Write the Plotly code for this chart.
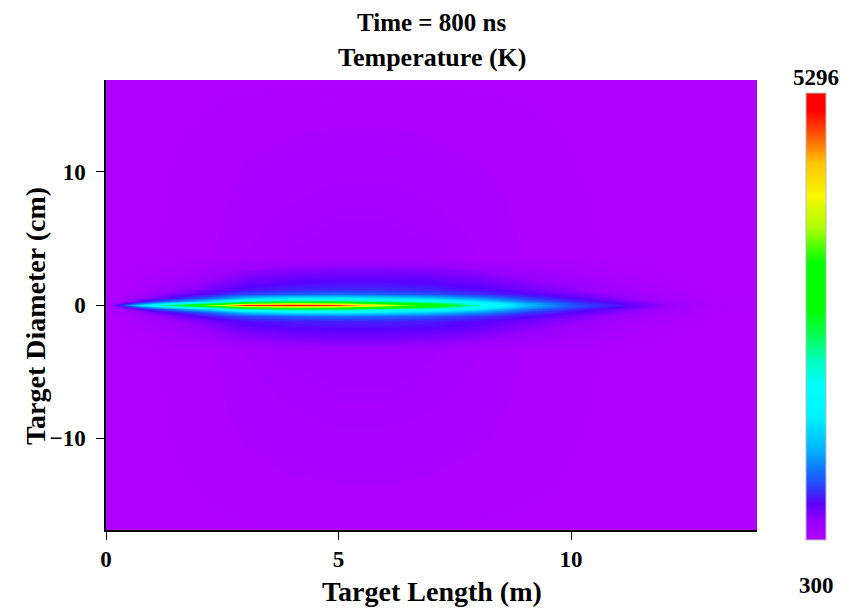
import plotly.graph_objects as go

# Axial positions (m) and radial offsets (cm) of the temperature table
x_m = [0, 0.3, 1, 2, 2.5, 3, 4, 5, 6, 7, 8, 9, 10, 11, 12, 13, 14]
r_cm = [0, 0.15, 0.3, 0.5, 0.8, 1.2, 1.8, 2.6, 3.5, 17]

# Temperature (K): one row per radial offset, one column per axial position
T_r000 = [300, 800, 2000, 3400, 4000, 5100, 5296, 4900, 4050, 3200, 2200, 1400, 980, 750, 520, 330, 300]
T_r015 = [300, 550, 1300, 2200, 2700, 3500, 3800, 3700, 3200, 2700, 1950, 1300, 920, 700, 490, 320, 300]
T_r030 = [300, 400, 850, 1400, 1750, 2300, 2600, 2600, 2300, 2000, 1600, 1100, 820, 630, 450, 310, 300]
T_r050 = [300, 330, 600, 950, 1150, 1450, 1650, 1700, 1600, 1450, 1200, 900, 710, 550, 410, 300, 300]
T_r080 = [300, 300, 480, 700, 820, 920, 1000, 1050, 1020, 960, 850, 730, 610, 480, 370, 300, 300]
T_r120 = [300, 300, 420, 570, 650, 730, 790, 810, 810, 780, 710, 620, 530, 420, 340, 300, 300]
T_r180 = [300, 300, 370, 480, 560, 630, 680, 700, 700, 680, 630, 550, 470, 380, 310, 300, 300]
T_r260 = [300, 300, 320, 400, 460, 520, 570, 590, 590, 570, 520, 450, 390, 330, 300, 300, 300]
T_r350 = [300, 300, 300, 320, 340, 370, 400, 420, 420, 400, 370, 330, 310, 300, 300, 300, 300]
T_r1700 = [300, 300, 300, 300, 300, 300, 300, 300, 300, 300, 300, 300, 300, 300, 300, 300, 300]
T_rows = [T_r000, T_r015, T_r030, T_r050, T_r080, T_r120, T_r180, T_r260, T_r350, T_r1700]

T_min = 300
T_max = 5296

x_ticks = [0, 5, 10]
y_ticks = [-10, 0, 10]

colorscale = [
    [0.00, "#b000ff"], [0.04, "#9a00ff"], [0.08, "#5a00ff"], [0.13, "#2050ff"],
    [0.20, "#00b0ff"], [0.27, "#00f0ff"], [0.34, "#00ffff"], [0.40, "#00ffc0"],
    [0.47, "#00ff40"], [0.52, "#00ff00"], [0.62, "#00ff00"], [0.70, "#b0ff00"],
    [0.77, "#f8f800"], [0.84, "#ffc800"], [0.90, "#ff6000"], [0.96, "#ff0000"],
    [1.00, "#ff0000"],
]

# Mirror the radial table about the axis (symmetric target)
y_cm = [-r for r in reversed(r_cm[1:])] + r_cm
z = list(reversed(T_rows[1:])) + T_rows

FONT = "Liberation Serif"

fig = go.Figure(
    go.Heatmap(
        x=x_m, y=y_cm, z=z,
        zmin=T_min, zmax=T_max, zsmooth="best",
        colorscale=colorscale,
        colorbar=dict(
            thickness=20, len=447, lenmode="pixels",
            x=1.0753, xanchor="left", y=0.4744, yanchor="middle",
            outlinewidth=1, outlinecolor="#bbbbbb",
            showticklabels=False, ticks="", xpad=0, ypad=0,
        ),
    )
)

fig.update_layout(
    width=850, height=612,
    margin=dict(l=106, r=93, t=80, b=82),
    paper_bgcolor="white", plot_bgcolor="white",
    font=dict(family=FONT, color="black"),
    xaxis=dict(
        range=[0, 14], tickvals=x_ticks, ticks="outside", ticklen=8,
        tickcolor="black", showline=True, linecolor="black", linewidth=1.5,
        showgrid=False, zeroline=False, ticklabelstandoff=0,
        tickfont=dict(family=FONT, size=23, weight="bold", color="black"),
    ),
    yaxis=dict(
        range=[-16.9, 16.9], tickvals=y_ticks, ticks="outside", ticklen=8,
        tickcolor="black", showline=True, linecolor="black", linewidth=1.5,
        showgrid=False, zeroline=False, ticklabelstandoff=6,
        tickfont=dict(family=FONT, size=23, weight="bold", color="black"),
    ),
    showlegend=False,
)

ann_font = lambda s: dict(family=FONT, size=s, weight="bold", color="black")
annotations = [
    dict(text="Time = 800 ns", x=0.5, y=(530 - 22) / 450, font=ann_font(25)),
    dict(text="Temperature (K)", x=0.5, y=(530 - 57) / 450, font=ann_font(26)),
    dict(text="5296", x=(816 - 106) / 651, y=(530 - 77) / 450, font=ann_font(23)),
    dict(text="300", x=(816 - 106) / 651, y=(530 - 585) / 450, font=ann_font(23)),
    dict(text="Target Length (m)", x=0.5, y=(530 - 591) / 450, font=ann_font(28)),
    dict(text="Target Diameter (cm)", x=(35 - 106) / 651, y=(530 - 316) / 450,
         textangle=-90, font=ann_font(28)),
]
for a in annotations:
    a.update(xref="paper", yref="paper", showarrow=False,
             xanchor="center", yanchor="middle")
fig.update_layout(annotations=annotations)

fig.write_html("out.html")
